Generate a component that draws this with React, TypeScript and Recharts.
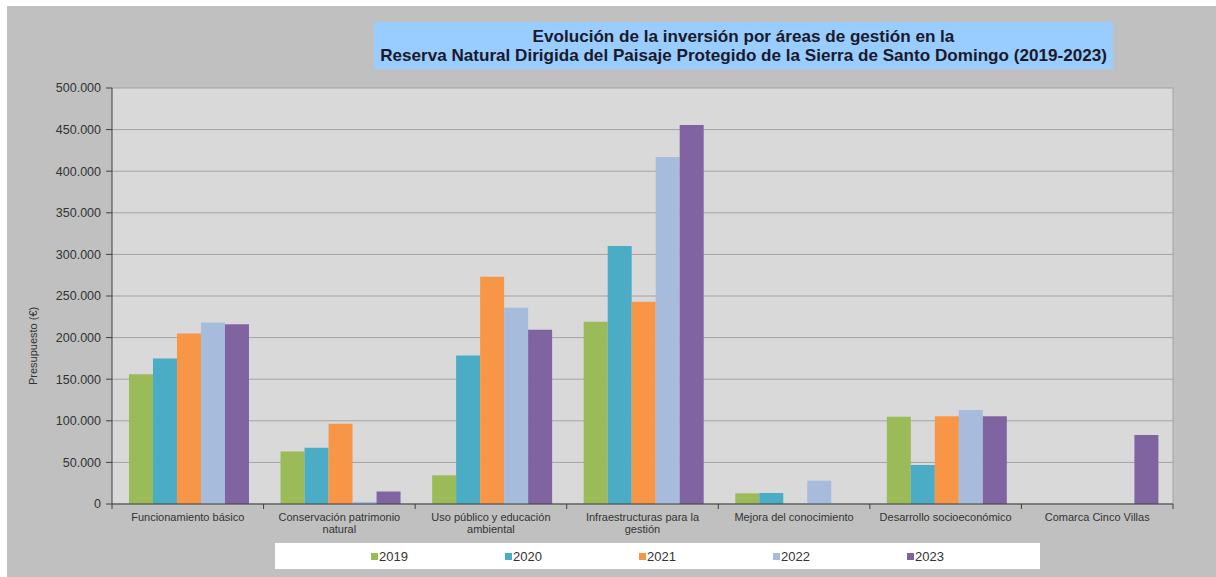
import React from 'react';
import { BarChart, Bar, XAxis, YAxis, CartesianGrid, Legend, Label } from 'recharts';

// Áreas de gestión (eje X)
const categories = [
  'Funcionamiento básico',
  'Conservación patrimonio natural',
  'Uso público y educación ambiental',
  'Infraestructuras para la gestión',
  'Mejora del conocimiento',
  'Desarrollo socioeconómico',
  'Comarca Cinco Villas',
];

// Presupuesto (€) por año
const v2019 = [156000, 63000, 34500, 219000, 12800, 105000, 0];
const v2020 = [175000, 67500, 178500, 310000, 13200, 47000, 0];
const v2021 = [205000, 96500, 273000, 243000, 0, 105500, 0];
const v2022 = [218000, 2500, 236000, 417000, 28000, 113000, 0];
const v2023 = [216000, 15000, 209500, 455500, 0, 105500, 83000];

const yTicks = [0, 50000, 100000, 150000, 200000, 250000, 300000, 350000, 400000, 450000, 500000];

const series = [
  { key: '2019', values: v2019, color: '#9bbb59' },
  { key: '2020', values: v2020, color: '#4bacc6' },
  { key: '2021', values: v2021, color: '#f79646' },
  { key: '2022', values: v2022, color: '#a7bbdc' },
  { key: '2023', values: v2023, color: '#8064a2' },
];

const data = categories.map((name, i) => {
  const row: Record<string, any> = { name };
  series.forEach((s) => {
    row[s.key] = s.values[i];
  });
  return row;
});

const FONT = '"Liberation Sans", Arial, sans-serif';

const formatThousands = (v: number) => String(v).replace(/\B(?=(\d{3})+(?!\d))/g, '.');

let measureCtx: CanvasRenderingContext2D | null = null;
function wrapWords(text: string, maxWidth: number, font: string) {
  if (!measureCtx) measureCtx = document.createElement('canvas').getContext('2d');
  const ctx = measureCtx!;
  ctx.font = font;
  const lines: string[] = [];
  let cur = '';
  text.split(' ').forEach((w) => {
    const next = cur ? cur + ' ' + w : w;
    if (cur && ctx.measureText(next).width > maxWidth) {
      lines.push(cur);
      cur = w;
    } else {
      cur = next;
    }
  });
  if (cur) lines.push(cur);
  return lines;
}

function CategoryTick(props: any) {
  const { x, y, payload, width, visibleTicksCount, index } = props;
  const band = width / visibleTicksCount;
  const left = x - band / 2;
  const lines = wrapWords(String(payload.value), band - 8, '11px "Liberation Sans"');
  return (
    <g>
      <line x1={left} y1={y} x2={left} y2={y + 5} stroke="#404040" />
      {index === visibleTicksCount - 1 && (
        <line x1={left + band} y1={y} x2={left + band} y2={y + 5} stroke="#404040" />
      )}
      <text x={x} y={y + 17} textAnchor="middle" fontSize={11} fill="#333" fontFamily={FONT}>
        {lines.map((l, i) => (
          <tspan key={i} x={x} dy={i === 0 ? 0 : 12}>
            {l}
          </tspan>
        ))}
      </text>
    </g>
  );
}

function YLabel(props: any) {
  const { viewBox } = props;
  const cx = viewBox.x + viewBox.width * 0.25;
  const cy = viewBox.y + viewBox.height * 0.62;
  return (
    <text
      x={cx}
      y={cy}
      transform={`rotate(-90 ${cx} ${cy})`}
      textAnchor="middle"
      dominantBaseline="central"
      fontSize={11}
      fill="#333"
      fontFamily={FONT}
    >
      Presupuesto (€)
    </text>
  );
}

function LegendBox() {
  return (
    <div
      style={{
        width: 765,
        height: 26,
        background: '#ffffff',
        display: 'flex',
        justifyContent: 'center',
        alignItems: 'center',
        fontFamily: FONT,
        fontSize: 13,
        color: '#333',
      }}
    >
      {series.map((s) => (
        <div key={s.key} style={{ width: 134, display: 'flex', justifyContent: 'center', alignItems: 'center' }}>
          <span style={{ display: 'inline-block', width: 7, height: 7, background: s.color, marginRight: 1 }} />
          <span>{s.key}</span>
        </div>
      ))}
    </div>
  );
}

export default function App() {
  return (
    <div style={{ position: 'fixed', left: 0, top: 0, width: 1216, height: 577, background: '#fff', overflow: 'hidden' }}>
      <div style={{ position: 'absolute', left: 7, top: 6, width: 1209, height: 571, background: '#c0c0c0' }}>
        <BarChart
          width={1209}
          height={571}
          data={data}
          margin={{ top: 82, right: 43, bottom: 0, left: 0 }}
          barCategoryGap="11.2%"
          barGap={0}
        >
          <CartesianGrid
            fill="#d9d9d9"
            stroke="#a3a3a3"
            vertical={true}
            verticalCoordinatesGenerator={({ offset }: any) => [offset.left + offset.width]}
          />
          <XAxis
            dataKey="name"
            height={73}
            interval={0}
            axisLine={{ stroke: '#404040' }}
            tickLine={false}
            tickSize={0}
            tickMargin={0}
            tick={<CategoryTick />}
          />
          <YAxis
            width={105}
            domain={[0, 500000]}
            ticks={yTicks}
            interval={0}
            tickFormatter={formatThousands}
            axisLine={{ stroke: '#404040' }}
            tickLine={{ stroke: '#404040' }}
            tickSize={6}
            tickMargin={5}
            tick={{ fontSize: 12.5, fill: '#333', fontFamily: FONT }}
          >
            <Label content={<YLabel />} />
          </YAxis>
          <Legend
            layout="horizontal"
            verticalAlign="middle"
            content={<LegendBox />}
            wrapperStyle={{ position: 'absolute', left: 268, top: 537, width: 765, height: 26 }}
          />
          {series.map((s) => (
            <Bar key={s.key} dataKey={s.key} name={s.key} fill={s.color} isAnimationActive={false} />
          ))}
        </BarChart>
        <div
          style={{
            position: 'absolute',
            left: 367,
            top: 16,
            width: 739,
            height: 47,
            background: '#99ccff',
            fontFamily: FONT,
            fontWeight: 'bold',
            fontSize: 17.1,
            color: '#1a1a2a',
            textAlign: 'center',
            lineHeight: '19px',
            paddingTop: 5,
            boxSizing: 'border-box',
            whiteSpace: 'nowrap',
          }}
        >
          Evolución de la inversión por áreas de gestión en la
          <br />
          Reserva Natural Dirigida del Paisaje Protegido de la Sierra de Santo Domingo (2019-2023)
        </div>
      </div>
    </div>
  );
}
